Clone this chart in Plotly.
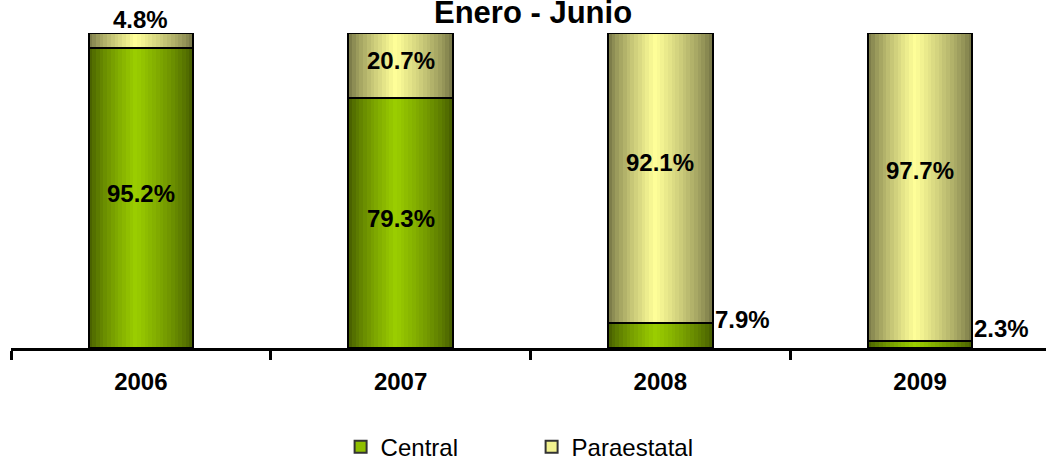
import plotly.graph_objects as go

# ---- data ----
years = ["2006", "2007", "2008", "2009"]
central = [95.2, 79.3, 7.9, 2.3]
paraestatal = [4.8, 20.7, 92.1, 97.7]
title_text = "Enero - Junio"
series_names = ["Central", "Paraestatal"]

# ---- style ----
FONT = "Liberation Sans, Arial, sans-serif"
BAR_W = 0.403
N_STRIPS = 28
CENTRAL_DARK = (66, 88, 0)
CENTRAL_LIGHT = (155, 206, 0)
PARA_DARK = (112, 112, 66)
PARA_LIGHT = (255, 255, 153)
PEAK = 0.45


def shade(t, dark, light):
    if t <= PEAK:
        s = t / PEAK
    else:
        s = (1 - t) / (1 - PEAK)
    s = max(0.0, min(1.0, s)) ** 0.75
    c = [round(d + (l - d) * s) for d, l in zip(dark, light)]
    return "rgb(%d,%d,%d)" % tuple(c)


c_frac = [v / 100 for v in central]
p_frac = [v / 100 for v in paraestatal]

fig = go.Figure()
sw = BAR_W / N_STRIPS
for i in range(N_STRIPS):
    t = (i + 0.5) / N_STRIPS
    off = -BAR_W / 2 + i * sw
    w = sw * 1.6 if i < N_STRIPS - 1 else sw
    fig.add_trace(go.Bar(x=years, y=c_frac, base=[0] * 4, width=w, offset=off,
                         marker=dict(color=shade(t, CENTRAL_DARK, CENTRAL_LIGHT), line=dict(width=0)),
                         showlegend=False, hoverinfo="skip"))
    fig.add_trace(go.Bar(x=years, y=p_frac, base=c_frac, width=w, offset=off,
                         marker=dict(color=shade(t, PARA_DARK, PARA_LIGHT), line=dict(width=0)),
                         showlegend=False, hoverinfo="skip"))

# outlines
fig.add_trace(go.Bar(x=years, y=c_frac, base=[0] * 4, width=BAR_W, offset=-BAR_W / 2,
                     marker=dict(color="rgba(0,0,0,0)", line=dict(color="black", width=2)),
                     showlegend=False, hoverinfo="skip"))
fig.add_trace(go.Bar(x=years, y=p_frac, base=c_frac, width=BAR_W, offset=-BAR_W / 2,
                     marker=dict(color="rgba(0,0,0,0)", line=dict(color="black", width=2)),
                     showlegend=False, hoverinfo="skip"))

# legend entries
for name, col in zip(series_names, ["#8fbf00", "#f2f28f"]):
    fig.add_trace(go.Scatter(x=[None], y=[None], mode="markers", name=name,
                             marker=dict(symbol="square", size=12, color=col,
                                         line=dict(color="#333333", width=1.5))))

annotations = []
lab_font = dict(family=FONT, size=24, color="black")
for i, y in enumerate(years):
    c, p = c_frac[i], p_frac[i]
    # central label
    if c > 0.15:
        annotations.append(dict(x=i, y=c / 2, text="%.1f%%" % central[i], showarrow=False,
                                font=lab_font, yshift=5))
    else:
        annotations.append(dict(x=i + BAR_W / 2, y=c / 2, text="%.1f%%" % central[i], showarrow=False,
                                font=lab_font, xanchor="left", xshift=0, yshift=16))
    # paraestatal label
    if p > 0.15:
        annotations.append(dict(x=i, y=c + p / 2, text="%.1f%%" % paraestatal[i], showarrow=False,
                                font=lab_font, yshift=5 if p < 0.5 else 16))
    else:
        annotations.append(dict(x=i, y=c + p, text="%.1f%%" % paraestatal[i], showarrow=False,
                                font=lab_font, yanchor="bottom", yshift=-2))

for a in annotations:
    a["text"] = "<b>%s</b>" % a["text"]
annotations.append(dict(xref="paper", yref="paper", x=0.504, y=1.0635, text="<b>%s</b>" % title_text,
                        showarrow=False, font=dict(family=FONT, size=31, color="black"),
                        xanchor="center", yanchor="middle"))

fig.update_layout(
    width=1046, height=460,
    margin=dict(l=11, r=0, t=33, b=112),
    paper_bgcolor="white", plot_bgcolor="white",
    barmode="overlay",
    bargap=0,
    font=dict(family=FONT, color="black"),
    annotations=annotations,
    showlegend=True,
    legend=dict(orientation="h", x=0.503, xanchor="center", yref="container", y=0.028, yanchor="middle",
                font=dict(family=FONT, size=24, color="black"),
                entrywidth=146, entrywidthmode="pixels", itemsizing="constant"),
    xaxis=dict(type="category", range=[-0.5, 3.485], showline=True, linecolor="black", linewidth=3,
               ticks="outside", ticklen=9, tickwidth=3, tickcolor="black", tickson="boundaries",
               tickfont=dict(family=FONT, size=24, color="black"), ticklabelstandoff=10,
               showgrid=False, zeroline=False, fixedrange=True,
               tickvals=years, ticktext=["<b>%s</b>" % y for y in years]),
    yaxis=dict(range=[0, 1], visible=False, showgrid=False, zeroline=False, fixedrange=True),
)

fig.write_html("out.html", config={"displayModeBar": False},
               post_script="document.body.style.margin='0';document.body.style.overflow='hidden';")
